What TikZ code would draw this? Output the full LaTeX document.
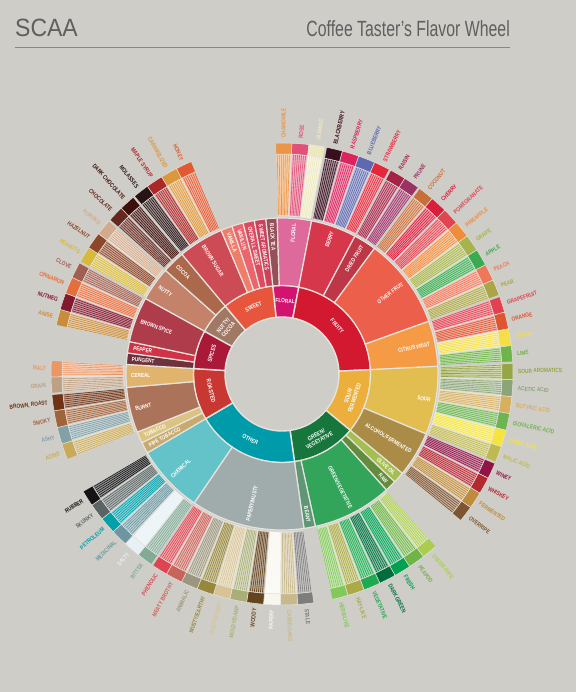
\documentclass[tikz,border=0pt]{standalone}
\usepackage{fontspec}
\setmainfont{Liberation Sans}
\newfontfamily\lblfont[FakeStretch=0.8]{Liberation Sans}
\newfontfamily\headfont[FakeStretch=0.92]{Liberation Sans}
\newfontfamily\subfont[FakeStretch=0.72]{Liberation Sans}
\definecolor{paper}{RGB}{207,205,200}
\definecolor{seam}{RGB}{229,227,222}
\definecolor{inkgray}{RGB}{95,95,95}
\definecolor{rulegray}{RGB}{135,135,135}
\newcommand{\wedgeseg}[5]{%
  \path[#1] (#2:#4pt) arc[start angle=#2, end angle=#3, radius=#4pt]
    -- (#3:#5pt) arc[start angle=#3, end angle=#2, radius=#5pt] -- cycle;}
\newcommand{\unitdeg}{4.235294}

\begin{document}
\begin{tikzpicture}[x=1pt, y=1pt,
    core/.style={fill=cur, draw=seam, line width=1.4pt},
    branch/.style={fill=cur, draw=seam, line width=1.2pt},
    twig/.style={fill=cur!45!white, draw=seam, line width=0.7pt},
    tip/.style={fill=cur, draw=seam, line width=0.5pt},
    groupgap/.style={draw=paper, line width=2.2pt},
    corelabel/.style={text=white, font=\lblfont\bfseries\fontsize{6}{6.5}\selectfont, align=center, inner sep=0pt},
    branchlabel/.style={text=white, font=\lblfont\bfseries\fontsize{5.8}{6}\selectfont, inner sep=0pt},
    tiplabel/.style={text=cur, font=\lblfont\bfseries\fontsize{6}{6}\selectfont, inner sep=0pt}
]
    \useasboundingbox (-282,-318) rectangle (294,374);
    \fill[paper] (-282,-318) rectangle (294,374);

    \node[anchor=base west, text=inkgray, inner sep=0pt, font=\headfont\fontsize{25}{25}\selectfont] (scaa) at (-267,337) {SCAA};
    \node[anchor=base east, text=inkgray, inner sep=0pt, font=\subfont\fontsize{22}{22}\selectfont] (wheeltitle) at (228,337) {Coffee Taster’s Flavor Wheel};
    \draw[rulegray, line width=0.8pt] (scaa.west |- 0,327) -- (wheeltitle.east |- 0,327);

    \foreach \s/\n/\txt/\rgb in {0/4/FLORAL/{210,20,110}, 4/18/FRUITY/{210,25,48},
        22/10/{SOUR/\\FERMENTED}/{236,175,60}, 32/10/{GREEN/\\VEGETATIVE}/{22,118,60},
        42/16/OTHER/{0,155,170}, 58/8/ROASTED/{200,55,50}, 66/6/SPICES/{170,25,55},
        72/5/{NUTTY/\\COCOA}/{160,120,100}, 77/8/SWEET/{230,85,60}}
    {
        \edef\tmp{\noexpand\definecolor{cur}{RGB}{\rgb}}\tmp
        \pgfmathsetmacro\angA{96-\s*\unitdeg}
        \pgfmathsetmacro\angB{96-(\s+\n)*\unitdeg}
        \wedgeseg{core}{\angA}{\angB}{57}{88.5}
        \pgfmathsetmacro\angM{mod((\angA+\angB)/2+540,360)-180}
        \pgfmathtruncatemacro\uphalf{\angM>0}
        \ifnum\uphalf=1 \pgfmathsetmacro\rot{\angM-90}\else\pgfmathsetmacro\rot{\angM+90}\fi
        \node[corelabel, rotate=\rot] (core-\s) at (\angM:73pt) {\txt};
    }

    \foreach \s/\n/\txt/\rgb in {0/1/BLACK TEA/{150,80,90}, 1/3/FLORAL/{222,105,155},
        4/4/BERRY/{215,55,75}, 8/2/DRIED FRUIT/{190,55,70}, 10/8/OTHER FRUIT/{236,95,75},
        18/4/CITRUS FRUIT/{245,155,70}, 22/6/SOUR/{226,190,80},
        28/4/{ALCOHOL/FERMENTED}/{170,140,70}, 32/1/OLIVE OIL/{165,190,80}, 33/1/RAW/{100,140,60},
        34/7/{GREEN/VEGETATIVE}/{50,165,90}, 41/1/BEANY/{95,150,115},
        42/10/{PAPERY/MUSTY}/{160,172,172}, 52/6/CHEMICAL/{100,195,200},
        58/1/PIPE TOBACCO/{200,170,110}, 59/1/TOBACCO/{220,195,130}, 60/4/BURNT/{170,115,90},
        64/2/CEREAL/{225,180,110}, 66/1/PUNGENT/{110,50,60}, 67/1/PEPPER/{210,50,70},
        68/4/BROWN SPICE/{175,60,75}, 72/3/NUTTY/{195,130,105}, 75/2/COCOA/{170,105,75},
        77/4/BROWN SUGAR/{205,75,85}, 81/1/VANILLA/{240,125,105}, 82/1/VANILLIN/{235,100,110},
        83/1/OVERALL SWEET/{220,75,95}, 84/1/SWEET AROMATICS/{205,65,90}}
    {
        \edef\tmp{\noexpand\definecolor{cur}{RGB}{\rgb}}\tmp
        \pgfmathsetmacro\angA{96-\s*\unitdeg}
        \pgfmathsetmacro\angB{96-(\s+\n)*\unitdeg}
        \wedgeseg{branch}{\angA}{\angB}{88.5}{156}
        \pgfmathsetmacro\angM{mod((\angA+\angB)/2+540,360)-180}
        \pgfmathtruncatemacro\rside{abs(\angM)<90}
        \ifnum\rside=1
            \node[branchlabel, rotate=\angM, anchor=east] (branch-\s) at (\angM:151pt) {\txt};
        \else
            \node[branchlabel, rotate=\angM+180, anchor=west] (branch-\s) at (\angM:151pt) {\txt};
        \fi
    }

    \foreach \idx/\txt/\rgb in {1/CHAMOMILE/{235,150,70}, 2/ROSE/{225,80,120}, 3/JASMINE/{238,232,190},
        4/BLACKBERRY/{55,15,30}, 5/RASPBERRY/{220,35,95}, 6/BLUEBERRY/{95,105,175},
        7/STRAWBERRY/{228,40,60}, 8/RAISIN/{165,35,70}, 9/PRUNE/{155,50,100},
        10/COCONUT/{200,110,55}, 11/CHERRY/{218,30,60}, 12/POMEGRANATE/{225,70,80},
        13/PINEAPPLE/{240,140,60}, 14/GRAPE/{165,180,75}, 15/APPLE/{60,170,80},
        16/PEACH/{240,120,90}, 17/PEAR/{170,165,70}, 18/GRAPEFRUIT/{225,65,80},
        19/ORANGE/{222,85,50}, 20/LEMON/{245,222,70}, 21/LIME/{110,180,70},
        22/SOUR AROMATICS/{150,165,70}, 23/ACETIC ACID/{140,165,120}, 24/BUTYRIC ACID/{215,175,95},
        25/ISOVALERIC ACID/{110,180,80}, 26/CITRIC ACID/{245,228,60}, 27/MALIC ACID/{190,185,80},
        28/WINEY/{145,20,70}, 29/WHISKEY/{180,40,50}, 30/FERMENTED/{190,140,60},
        31/OVERRIPE/{125,85,50}, 34/UNDER-RIPE/{170,205,80}, 35/PEAPOD/{110,180,70},
        36/FRESH/{0,160,80}, 37/DARK GREEN/{0,110,60}, 38/VEGETATIVE/{30,170,80},
        39/HAY-LIKE/{170,170,70}, 40/HERB-LIKE/{130,200,90}, 42/STALE/{125,125,125},
        43/CARDBOARD/{200,185,140}, 44/PAPERY/{248,247,238}, 45/WOODY/{100,68,30},
        46/{MOLDY/DAMP}/{170,175,120}, 47/{MUSTY/DUSTY}/{215,195,150}, 48/{MUSTY/EARTHY}/{150,135,60},
        49/ANIMALIC/{155,150,125}, 50/MEATY BROTHY/{200,100,90}, 51/PHENOLIC/{220,70,80},
        52/BITTER/{130,170,150}, 53/SALTY/{230,240,245}, 54/MEDICINAL/{110,150,160},
        55/PETROLEUM/{0,160,170}, 56/SKUNKY/{90,100,100}, 57/RUBBER/{20,20,20},
        60/ACRID/{200,170,90}, 61/ASHY/{130,160,165}, 62/SMOKY/{160,100,60},
        63/{BROWN, ROAST}/{110,50,20}, 64/GRAIN/{190,160,130}, 65/MALT/{235,150,100},
        68/ANISE/{200,140,60}, 69/NUTMEG/{130,25,45}, 70/CINNAMON/{230,110,60},
        71/CLOVE/{160,95,80}, 72/PEANUTS/{215,185,60}, 73/HAZELNUT/{140,70,40},
        74/ALMOND/{210,170,140}, 75/CHOCOLATE/{100,40,30}, 76/DARK CHOCOLATE/{60,15,10},
        77/MOLASSES/{40,20,20}, 78/MAPLE SYRUP/{170,40,40}, 79/CARAMELIZED/{220,150,60},
        80/HONEY/{225,90,50}}
    {
        \edef\tmp{\noexpand\definecolor{cur}{RGB}{\rgb}}\tmp
        \pgfmathsetmacro\angA{96-\idx*\unitdeg}
        \pgfmathsetmacro\angB{96-(\idx+1)*\unitdeg}
        \wedgeseg{twig}{\angA}{\angB}{158}{220}
        \foreach \k in {1,...,7} {
            \pgfmathsetmacro\angK{\angA-\k*\unitdeg/8}
            \draw[cur, line width=0.6pt] (\angK:159pt) -- (\angK:219.5pt);
        }
        \wedgeseg{tip}{\angA}{\angB}{220}{231}
        \pgfmathsetmacro\angM{mod((\angA+\angB)/2+540,360)-180}
        \pgfmathtruncatemacro\rside{abs(\angM)<90}
        \ifnum\rside=1
            \node[tiplabel, rotate=\angM, anchor=west] (tip-\idx) at (\angM:236pt) {\txt};
        \else
            \node[tiplabel, rotate=\angM+180, anchor=east] (tip-\idx) at (\angM:236pt) {\txt};
        \fi
    }

    \foreach \g in {1,4,8,10,18,22,28,32,34,41,42,52,58,60,64,66,68,72,75,77,81} {
        \pgfmathsetmacro\angG{96-\g*\unitdeg}
        \draw[groupgap] (\angG:157pt) -- (\angG:232pt);
    }
\end{tikzpicture}
\end{document}
